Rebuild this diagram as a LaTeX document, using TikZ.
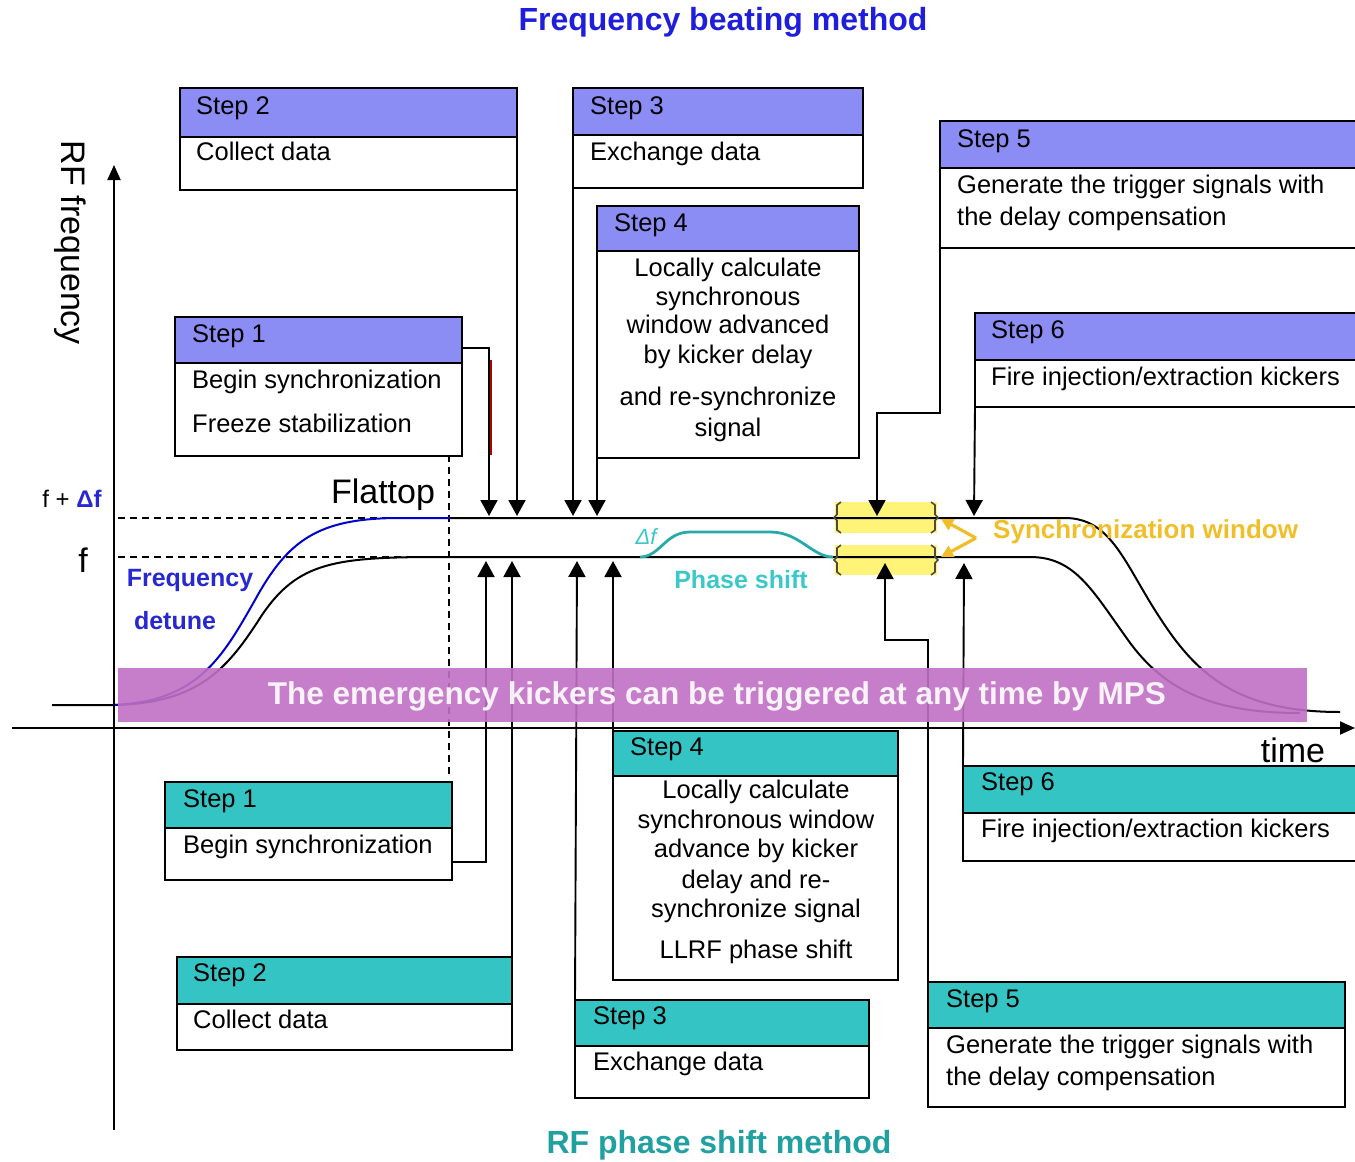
\documentclass[tikz,border=0pt]{standalone}
\usepackage{fontspec}
\setmainfont{Liberation Sans}
\usetikzlibrary{arrows.meta}
\definecolor{hdrblue}{RGB}{140,140,245}
\definecolor{hdrteal}{RGB}{52,196,196}
\definecolor{bandpurple}{RGB}{192,112,196}
\definecolor{ttlblue}{RGB}{30,30,220}
\definecolor{ttlteal}{RGB}{32,160,160}
\definecolor{detblue}{RGB}{40,40,210}
\definecolor{syncgold}{RGB}{240,190,40}
\definecolor{syncyel}{RGB}{255,243,120}
\definecolor{phteal}{RGB}{40,170,170}
\definecolor{phtext}{RGB}{60,200,200}
\definecolor{brk}{RGB}{80,75,55}
\begin{document}
\begin{tikzpicture}[x=1pt,y=-1pt,
  bx/.style={draw=black, line width=1.5pt, anchor=north west, inner sep=0pt, outer sep=0pt},
  hdrT/.style={bx, fill=hdrblue},
  hdrB/.style={bx, fill=hdrteal},
  txt/.style={font=\fontsize{25.5}{29}\selectfont, inner sep=0pt, anchor=mid west, yshift=-6pt},
  ctxt/.style={font=\fontsize{25.5}{29}\selectfont, inner sep=0pt, anchor=mid, yshift=-6pt},
  conn/.style={line width=1.9pt, draw=black},
  arr/.style={conn, -{Triangle[length=16pt,width=17pt]}},
  ttl/.style={font=\bfseries\fontsize{32}{36}\selectfont, inner sep=0pt},
  big/.style={font=\fontsize{34}{40}\selectfont, inner sep=0pt},
  bld/.style={font=\bfseries\fontsize{25}{29}\selectfont, inner sep=0pt},
  brkt/.style={draw=brk, line width=1.6pt},
]
\useasboundingbox (0,0) rectangle (1355,1162);

% titles
\node[ttl, text=ttlblue] (title) at (723,22) {Frequency beating method};
\node[ttl, text=ttlteal] (title2) at (719,1145) {RF phase shift method};

% sync window rectangles
\fill[syncyel] (835,502) rectangle (937,533);
\fill[syncyel] (835,545) rectangle (937,575);

% dashed guides
\draw[line width=1.6pt, dash pattern=on 7pt off 5pt] (118,518) -- (450,518);
\draw[line width=1.6pt, dash pattern=on 7pt off 5pt] (118,557) -- (440,557);
\draw[line width=1.6pt, dash pattern=on 7pt off 5pt] (449,455) -- (449,778);

% curves
\draw[line width=2pt] (52,705) -- (114,705) .. controls (200,703) and (228,668) .. (262,615) .. controls (298,562) and (335,557) .. (440,557) -- (1030,557)
  .. controls (1075,557) and (1092,590) .. (1128,640) .. controls (1165,692) and (1215,713) .. (1300,713);
\draw[line width=2pt] (450,518) -- (1065,518)
  .. controls (1112,518) and (1125,565) .. (1160,618) .. controls (1195,672) and (1235,712) .. (1340,712);
\draw[line width=2pt, blue!80!black] (114,705) .. controls (198,701) and (222,658) .. (255,600) .. controls (288,540) and (318,518) .. (400,518) -- (450,518);

% phase shift curve
\draw[line width=2.8pt, phteal] (640,557) .. controls (660,557) and (665,532) .. (690,532) -- (770,532) .. controls (800,532) and (812,557) .. (833,557);
\node[font=\itshape\fontsize{22}{26}\selectfont, text=phtext, inner sep=0pt] (df) at (646,537) {Δf};
\node[bld, text=phtext] (phs) at (741,580) {Phase shift};

% brackets
\foreach \ya/\yb in {502/533,545/575}{
  \draw[brkt] (841,\ya) -- (837,\ya+3) -- (837,{(\ya+\yb)/2-3}) -- (834,{(\ya+\yb)/2}) -- (837,{(\ya+\yb)/2+3}) -- (837,\yb-3) -- (841,\yb);
  \draw[brkt] (931,\ya) -- (935,\ya+3) -- (935,{(\ya+\yb)/2-3}) -- (938,{(\ya+\yb)/2}) -- (935,{(\ya+\yb)/2+3}) -- (935,\yb-3) -- (931,\yb);
}
\coordinate (sw) at (976,538);
\coordinate (swu) at (941,519);
\coordinate (swl) at (941,557);
\draw[line width=3.2pt, syncgold, -{Triangle[length=12pt,width=12pt]}] (sw) -- (swu);
\draw[line width=3.2pt, syncgold, -{Triangle[length=12pt,width=12pt]}] (sw) -- (swl);
\node[font=\bfseries\fontsize{26}{30}\selectfont, inner sep=0pt, text=syncgold, anchor=mid west] (sync) at (993,536) {Synchronization window};

% axes
\draw[conn, -{Triangle[length=15pt,width=13pt]}] (114,1130) -- (114,165);
\draw[conn, -{Triangle[length=15pt,width=13pt]}] (12,728) -- (1355,728);
\node[big, rotate=-90] (ylab) at (70,243) {RF frequency};
\node[big] (xlab) at (1293,750) {time};
\node[big] (flat) at (383,495) {Flattop};
\node[font=\fontsize{24}{28}\selectfont, inner sep=0pt] (fdf) at (72,499) {f + \textcolor{detblue}{\bfseries Δf}};
\node[big] (flab) at (83,560) {f};
\node[bld, text=detblue] (fd1) at (190,580) {Frequency};
\node[bld, text=detblue] (fd2) at (175,621) {detune};

% ---------- top boxes ----------
\node[bx, minimum width=337pt, minimum height=102pt] (t2) at (180,88) {};
\node[hdrT, minimum width=337pt, minimum height=49pt] (t2h) at (180,88) {};
\node[txt] (t2a) at (196,106) {Step 2};
\node[txt] (t2b) at (196,152) {Collect data};

\node[bx, minimum width=290pt, minimum height=100pt] (t3) at (573,88) {};
\node[hdrT, minimum width=290pt, minimum height=47pt] (t3h) at (573,88) {};
\node[txt] (t3a) at (590,106) {Step 3};
\node[txt] (t3b) at (590,152) {Exchange data};

\node[bx, minimum width=262pt, minimum height=252pt] (t4) at (597,206) {};
\node[hdrT, minimum width=262pt, minimum height=45pt] (t4h) at (597,206) {};
\node[txt] (t4a) at (614,223) {Step 4};
\node[ctxt] (t4b) at (728,268) {Locally calculate};
\node[ctxt] (t4c) at (728,297) {synchronous};
\node[ctxt] (t4d) at (728,325) {window advanced};
\node[ctxt] (t4e) at (728,355) {by kicker delay};
\node[ctxt] (t4f) at (728,397) {and re-synchronize};
\node[ctxt] (t4g) at (728,428) {signal};

\node[bx, minimum width=430pt, minimum height=127pt] (t5) at (940,121) {};
\node[hdrT, minimum width=430pt, minimum height=47pt] (t5h) at (940,121) {};
\node[txt] (t5a) at (957,139) {Step 5};
\node[txt] (t5b) at (957,185) {Generate the trigger signals with};
\node[txt] (t5c) at (957,217) {the delay compensation};

\node[bx, minimum width=395pt, minimum height=94pt] (t6) at (975,313) {};
\node[hdrT, minimum width=395pt, minimum height=47pt] (t6h) at (975,313) {};
\node[txt] (t6a) at (991,330) {Step 6};
\node[txt] (t6b) at (991,377) {Fire injection/extraction kickers};

\node[bx, minimum width=287pt, minimum height=139pt] (t1) at (175,317) {};
\node[hdrT, minimum width=287pt, minimum height=46pt] (t1h) at (175,317) {};
\node[txt] (t1a) at (192,334) {Step 1};
\node[txt] (t1b) at (192,380) {Begin synchronization};
\node[txt] (t1c) at (192,424) {Freeze stabilization};

% ---------- bottom boxes ----------
\node[bx, minimum width=287pt, minimum height=98pt] (b1) at (165,782) {};
\node[hdrB, minimum width=287pt, minimum height=46pt] (b1h) at (165,782) {};
\node[txt] (b1a) at (183,799) {Step 1};
\node[txt] (b1b) at (183,845) {Begin synchronization};

\node[bx, minimum width=335pt, minimum height=93pt] (b2) at (177,957) {};
\node[hdrB, minimum width=335pt, minimum height=47pt] (b2h) at (177,957) {};
\node[txt] (b2a) at (193,973) {Step 2};
\node[txt] (b2b) at (193,1020) {Collect data};

\node[bx, minimum width=285pt, minimum height=249pt] (b4) at (613,731) {};
\node[hdrB, minimum width=285pt, minimum height=45pt] (b4h) at (613,731) {};
\node[txt] (b4a) at (630,747) {Step 4};
\node[ctxt] (b4b) at (756,790) {Locally calculate};
\node[ctxt] (b4c) at (756,820) {synchronous window};
\node[ctxt] (b4d) at (756,849) {advance by kicker};
\node[ctxt] (b4e) at (756,880) {delay and re-};
\node[ctxt] (b4f) at (756,909) {synchronize signal};
\node[ctxt] (b4g) at (756,950) {LLRF phase shift};

\node[bx, minimum width=294pt, minimum height=98pt] (b3) at (575,1000) {};
\node[hdrB, minimum width=294pt, minimum height=46pt] (b3h) at (575,1000) {};
\node[txt] (b3a) at (593,1016) {Step 3};
\node[txt] (b3b) at (593,1062) {Exchange data};

\node[bx, minimum width=410pt, minimum height=95pt] (b6) at (963,766) {};
\node[hdrB, minimum width=410pt, minimum height=47pt] (b6h) at (963,766) {};
\node[txt] (b6a) at (981,782) {Step 6};
\node[txt] (b6b) at (981,829) {Fire injection/extraction kickers};

\node[bx, minimum width=417pt, minimum height=125pt] (b5) at (928,982) {};
\node[hdrB, minimum width=417pt, minimum height=46pt] (b5h) at (928,982) {};
\node[txt] (b5a) at (946,999) {Step 5};
\node[txt] (b5b) at (946,1045) {Generate the trigger signals with};
\node[txt] (b5c) at (946,1077) {the delay compensation};

% ---------- connectors (top, downward) ----------
\coordinate (a1) at (489,516);
\coordinate (a5) at (877,516);
\coordinate (a6) at (974,516);
\draw[arr] ([yshift=-8pt]t1h.east) -| (a1);
\draw[red!70!black, line width=2.5pt] (491,360) -- (491,455);
\draw[arr] (t2.south east) -- (t2.south east |- a1);
\draw[arr] (t3.south west) -- (t3.south west |- a1);
\draw[arr] (t4.south west) -- (t4.south west |- a1);
\draw[arr] (t5.south west) -- ++(0,165) -| (a5);
\draw[arr] (t6.south west) -- (a6);

% ---------- connectors (bottom, upward) ----------
\coordinate (c1) at (486,561);
\coordinate (c5) at (885,563);
\coordinate (c6) at (964,563);
\draw[arr] ([yshift=18pt]b1.south east) -| (c1);
\draw[arr] (b2.north east) -- (b2.north east |- c1);
\draw[arr] (b3.north west) -- ([xshift=2pt]b3.north west |- c1);
\draw[arr] (b4.north west) -- (b4.north west |- c1);
\draw[arr] (b5.north west) -- ++(0,-342) -| (c5);
\draw[arr] (b6.north west) -- (c6);

% MPS band (on top, semi-transparent)
\fill[bandpurple, fill opacity=0.9] (118,668) rectangle (1307,722);
\node[font=\bfseries\fontsize{31.5}{36}\selectfont, text=white, text opacity=0.9, inner sep=0pt] (mps) at (717,696) {The emergency kickers can be triggered at any time by MPS};
\end{tikzpicture}
\end{document}
